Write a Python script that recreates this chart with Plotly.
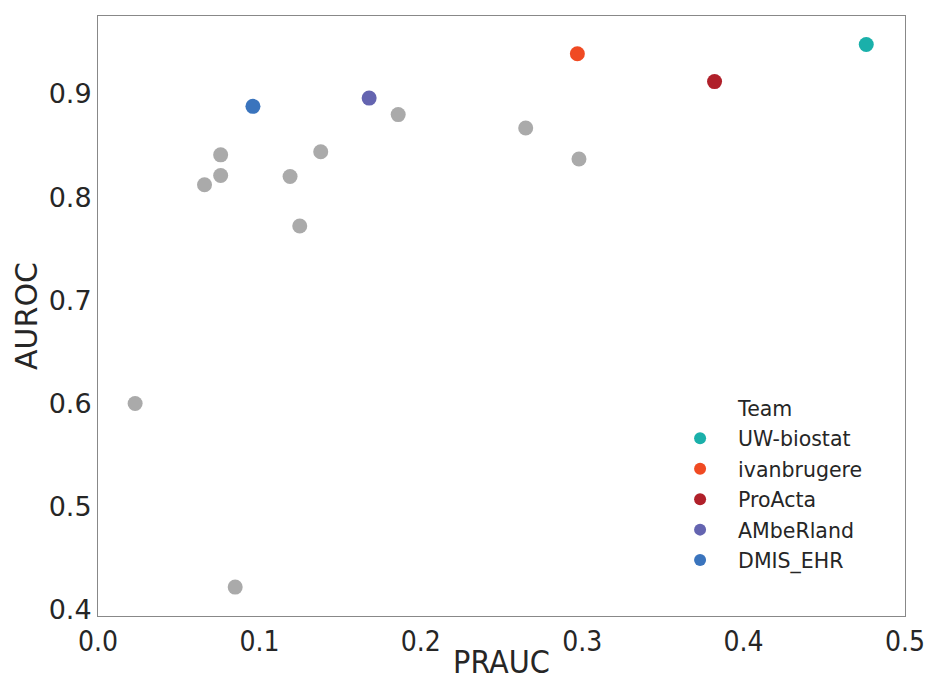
import plotly.graph_objects as go

# Highlighted teams
teams = ["UW-biostat", "ivanbrugere", "ProActa", "AMbeRland", "DMIS_EHR"]
team_prauc = [0.476, 0.297, 0.382, 0.168, 0.096]
team_auroc = [0.948, 0.939, 0.912, 0.896, 0.888]
team_colors = ["#1ab0aa", "#f04a22", "#b0202a", "#6464b0", "#3a74bd"]

# Other teams (gray)
other_prauc = [0.186, 0.265, 0.298, 0.138, 0.119, 0.125, 0.076, 0.076, 0.066, 0.023, 0.085]
other_auroc = [0.880, 0.867, 0.837, 0.844, 0.820, 0.772, 0.841, 0.821, 0.812, 0.600, 0.422]

fig = go.Figure()
fig.add_trace(go.Scatter(x=other_prauc, y=other_auroc, mode="markers",
                         marker=dict(size=15, color="#aaaaaa"), showlegend=False,
                         hoverinfo="skip"))
# legend title as invisible entry
fig.add_trace(go.Scatter(x=[None], y=[None], mode="markers", name="Team",
                         marker=dict(size=1, color="rgba(0,0,0,0)"), legendgroup="t"))
for t, x, y, c in zip(teams, team_prauc, team_auroc, team_colors):
    fig.add_trace(go.Scatter(x=[x], y=[y], mode="markers", name=t,
                             marker=dict(size=15, color=c), legendgroup=t))

font_c = "#262626"
fig.update_layout(
    width=927, height=681,
    margin=dict(l=98, r=22, t=16, b=65),
    paper_bgcolor="white", plot_bgcolor="white",
    font=dict(family="DejaVu Sans", color=font_c),
    xaxis=dict(range=[0, 0.5], tickvals=[0, 0.1, 0.2, 0.3, 0.4, 0.5],
               ticktext=["0.0", "0.1", "0.2", "0.3", "0.4", "0.5"],
               tickfont=dict(size=28, family="DejaVu Sans Condensed"),
               title=dict(text="PRAUC", font=dict(size=32, family="DejaVu Sans Condensed")),
               automargin=False,
               showgrid=False, zeroline=False, showline=True, mirror=True,
               linecolor="#888888", linewidth=1, ticks=""),
    yaxis=dict(range=[0.394, 0.9756], tickvals=[0.4, 0.5, 0.6, 0.7, 0.8, 0.9],
               ticktext=["0.4", "0.5", "0.6", "0.7", "0.8", "0.9"],
               tickfont=dict(size=27),
               title=dict(text="AUROC", font=dict(size=30), standoff=2),
               automargin=False,
               showgrid=False, zeroline=False, showline=True, mirror=True,
               linecolor="#888888", linewidth=1, ticks=""),
    legend=dict(x=0.699, y=0.38, xanchor="left", yanchor="top",
                font=dict(size=20.5, color=font_c), bgcolor="rgba(0,0,0,0)",
                itemsizing="constant", itemwidth=66, tracegroupgap=0.8),
)
fig.write_html("out.html")
